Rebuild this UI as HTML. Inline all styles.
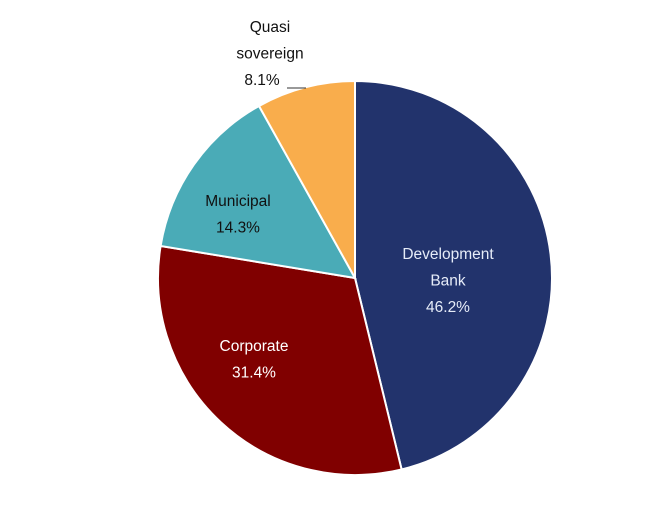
<!DOCTYPE html>
<html><head><meta charset="utf-8"><style>
html,body{margin:0;padding:0;background:#fff;}
svg{display:block;}
text{font-family:"Liberation Sans",sans-serif;font-size:15.5px;text-anchor:middle;}
</style></head><body>
<svg id="chart" width="652" height="522" viewBox="0 0 652 522"></svg>
<script>
const categories = ["Development Bank", "Corporate", "Municipal", "Quasi sovereign"];
const values = [46.2, 31.4, 14.3, 8.1];
const valueLabels = ["46.2%", "31.4%", "14.3%", "8.1%"];
const labelLines = [["Development", "Bank"], ["Corporate"], ["Municipal"], ["Quasi", "sovereign"]];
const colors = ["#22336c", "#800000", "#4aabb7", "#f9ad4c"];
const textColors = ["#e6ecf8", "#ffffff", "#111111", "#111111"];
const labelPos = [[448, 259], [254, 351], [238, 206], [270, 32]];

const NS = "http://www.w3.org/2000/svg";
const svg = document.getElementById("chart");
const cx = 355, cy = 278, r = 197;
const total = values.reduce((a, b) => a + b, 0);
function pt(frac) {
  const a = frac * 2 * Math.PI;
  return [cx + r * Math.sin(a), cy - r * Math.cos(a)];
}
let acc = 0;
values.forEach((v, i) => {
  const f0 = acc / total, f1 = (acc + v) / total;
  acc += v;
  const p0 = pt(f0), p1 = pt(f1);
  const large = (f1 - f0) > 0.5 ? 1 : 0;
  const path = document.createElementNS(NS, "path");
  path.setAttribute("d", `M${cx},${cy} L${p0[0]},${p0[1]} A${r},${r} 0 ${large} 1 ${p1[0]},${p1[1]} Z`);
  path.setAttribute("fill", colors[i]);
  path.setAttribute("stroke", "#ffffff");
  path.setAttribute("stroke-width", "2");
  
  
  svg.appendChild(path);
});
labelPos.forEach((p, i) => {
  const g = document.createElementNS(NS, "g");
  
  
  const lines = labelLines[i].concat([valueLabels[i]]);
  lines.forEach((t, j) => {
    const tx = document.createElementNS(NS, "text");
    let x = p[0];
    if (i === 3 && j === lines.length - 1) x = 262;
    tx.setAttribute("x", x);
    tx.setAttribute("y", p[1] + j * 26.5);
    tx.setAttribute("fill", textColors[i]);
    tx.textContent = t;
    g.appendChild(tx);
  });
  svg.appendChild(g);
});
const leader = document.createElementNS(NS, "line");
leader.setAttribute("x1", 287); leader.setAttribute("y1", 88);
leader.setAttribute("x2", 306); leader.setAttribute("y2", 88);
leader.setAttribute("stroke", "#333"); leader.setAttribute("stroke-width", "1");


svg.appendChild(leader);
</script>
</body></html>
